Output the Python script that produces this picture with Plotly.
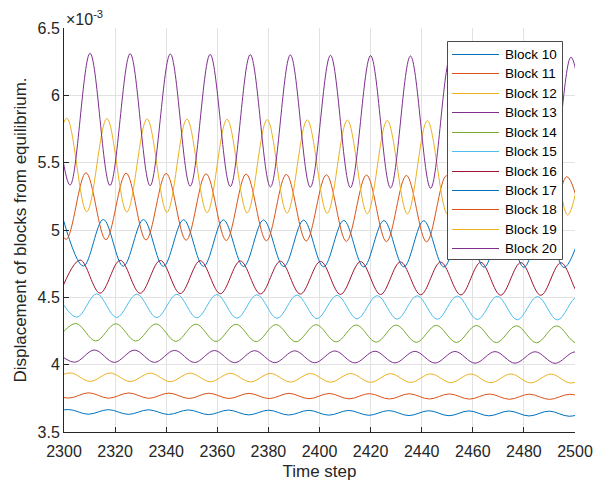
import plotly.graph_objects as go

# Extrema (turning points) of each block's displacement, in units of 1e-3.
# Each list alternates between crests and troughs; the plot spline joins them.
block10_t = [2293.9, 2301.7, 2309.5, 2317.4, 2325.2, 2333.1, 2340.9, 2348.7, 2356.6, 2364.4, 2372.3, 2380.1, 2387.9, 2395.8,
             2403.6, 2411.5, 2419.3, 2427.1, 2435.0, 2442.8, 2450.7, 2458.5, 2466.3, 2474.2, 2482.0, 2489.9, 2497.7, 2505.5]
block10_v = [3.634, 3.667, 3.632, 3.666, 3.631, 3.665, 3.630, 3.664, 3.629, 3.663, 3.627, 3.662, 3.626, 3.661,
             3.625, 3.660, 3.624, 3.659, 3.622, 3.658, 3.621, 3.657, 3.620, 3.656, 3.619, 3.655, 3.617, 3.654]

block11_t = [2294.0, 2301.9, 2309.7, 2317.5, 2325.4, 2333.2, 2341.1, 2348.9, 2356.7, 2364.6, 2372.4, 2380.3, 2388.1, 2395.9,
             2403.8, 2411.6, 2419.5, 2427.3, 2435.1, 2443.0, 2450.8, 2458.7, 2466.5, 2474.3, 2482.2, 2490.0, 2497.9, 2505.7]
block11_v = [3.792, 3.752, 3.791, 3.751, 3.790, 3.750, 3.789, 3.749, 3.788, 3.749, 3.787, 3.748, 3.787, 3.747,
             3.786, 3.746, 3.785, 3.745, 3.784, 3.745, 3.783, 3.744, 3.782, 3.743, 3.781, 3.742, 3.780, 3.741]

block12_t = [2294.6, 2302.4, 2310.2, 2318.1, 2325.9, 2333.8, 2341.6, 2349.4, 2357.3, 2365.1, 2373.0, 2380.8, 2388.6, 2396.5,
             2404.3, 2412.2, 2420.0, 2427.8, 2435.7, 2443.5, 2451.4, 2459.2, 2467.0, 2474.9, 2482.7, 2490.6, 2498.4, 2506.2]
block12_v = [3.877, 3.939, 3.876, 3.938, 3.875, 3.937, 3.874, 3.937, 3.873, 3.936, 3.872, 3.935, 3.871, 3.934,
             3.870, 3.934, 3.869, 3.933, 3.868, 3.932, 3.867, 3.931, 3.866, 3.931, 3.865, 3.930, 3.864, 3.929]

block13_t = [2296.2, 2304.1, 2311.9, 2319.7, 2327.6, 2335.4, 2343.3, 2351.1, 2358.9, 2366.8, 2374.6, 2382.5, 2390.3, 2398.1,
             2406.0, 2413.8, 2421.7, 2429.5, 2437.3, 2445.2, 2453.0, 2460.9, 2468.7, 2476.5, 2484.4, 2492.2, 2500.1, 2507.9]
block13_v = [4.110, 4.018, 4.109, 4.017, 4.108, 4.017, 4.106, 4.016, 4.105, 4.015, 4.104, 4.015, 4.103, 4.014,
             4.102, 4.013, 4.100, 4.013, 4.099, 4.012, 4.098, 4.011, 4.097, 4.011, 4.096, 4.010, 4.095, 4.009]

block14_t = [2296.8, 2304.6, 2312.4, 2320.3, 2328.1, 2336.0, 2343.8, 2351.6, 2359.5, 2367.3, 2375.2, 2383.0, 2390.8, 2398.7,
             2406.5, 2414.4, 2422.2, 2430.0, 2437.9, 2445.7, 2453.6, 2461.4, 2469.2, 2477.1, 2484.9, 2492.8, 2500.6, 2508.4]
block14_v = [4.177, 4.306, 4.176, 4.304, 4.175, 4.303, 4.173, 4.301, 4.172, 4.300, 4.171, 4.298, 4.170, 4.297,
             4.169, 4.295, 4.167, 4.294, 4.166, 4.292, 4.165, 4.291, 4.164, 4.289, 4.163, 4.288, 4.162, 4.286]

block15_t = [2297.1, 2305.0, 2312.8, 2320.6, 2328.5, 2336.3, 2344.2, 2352.0, 2359.8, 2367.7, 2375.5, 2383.4, 2391.2, 2399.0,
             2406.9, 2414.7, 2422.6, 2430.4, 2438.2, 2446.1, 2453.9, 2461.8, 2469.6, 2477.4, 2485.3, 2493.1, 2501.0, 2508.8]
block15_v = [4.528, 4.352, 4.526, 4.350, 4.524, 4.349, 4.523, 4.347, 4.521, 4.345, 4.519, 4.344, 4.517, 4.342,
             4.515, 4.340, 4.513, 4.338, 4.512, 4.337, 4.510, 4.335, 4.508, 4.333, 4.506, 4.332, 4.504, 4.330]

block16_t = [2298.5, 2306.3, 2314.1, 2322.0, 2329.8, 2337.7, 2345.5, 2353.3, 2361.2, 2369.0, 2376.9, 2384.7, 2392.5, 2400.4,
             2408.2, 2416.1, 2423.9, 2431.7, 2439.6, 2447.4, 2455.3, 2463.1, 2470.9, 2478.8, 2486.6, 2494.5, 2502.3, 2510.1]
block16_v = [4.533, 4.777, 4.531, 4.775, 4.530, 4.774, 4.528, 4.772, 4.527, 4.770, 4.525, 4.768, 4.524, 4.767,
             4.522, 4.765, 4.521, 4.763, 4.519, 4.762, 4.518, 4.760, 4.516, 4.758, 4.515, 4.757, 4.513, 4.755]

block17_t = [2299.7, 2307.6, 2315.4, 2323.2, 2331.1, 2338.9, 2346.8, 2354.6, 2362.4, 2370.3, 2378.1, 2386.0, 2393.8, 2401.6,
             2409.5, 2417.3, 2425.2, 2433.0, 2440.8, 2448.7, 2456.5, 2464.4, 2472.2, 2480.0, 2487.9, 2495.7, 2503.6]
block17_v = [5.079, 4.732, 5.078, 4.731, 5.077, 4.730, 5.076, 4.730, 5.075, 4.729, 5.074, 4.728, 5.073, 4.727,
             5.071, 4.726, 5.070, 4.726, 5.069, 4.725, 5.068, 4.724, 5.067, 4.723, 5.066, 4.722, 5.065]

block18_t = [2292.9, 2300.8, 2308.6, 2316.4, 2324.3, 2332.1, 2340.0, 2347.8, 2355.6, 2363.5, 2371.3, 2379.2, 2387.0, 2394.8,
             2402.7, 2410.5, 2418.4, 2426.2, 2434.0, 2441.9, 2449.7, 2457.6, 2465.4, 2473.2, 2481.1, 2488.9, 2496.8, 2504.6]
block18_v = [5.427, 4.930, 5.425, 4.928, 5.422, 4.926, 5.420, 4.924, 5.417, 4.922, 5.415, 4.920, 5.413, 4.918,
             5.410, 4.916, 5.408, 4.914, 5.405, 4.912, 5.403, 4.910, 5.401, 4.908, 5.398, 4.906, 5.396, 4.905]

block19_t = [2293.3, 2301.1, 2308.9, 2316.8, 2324.6, 2332.5, 2340.3, 2348.1, 2356.0, 2363.8, 2371.7, 2379.5, 2387.3, 2395.2,
             2403.0, 2410.9, 2418.7, 2426.5, 2434.4, 2442.2, 2450.1, 2457.9, 2465.7, 2473.6, 2481.4, 2489.3, 2497.1, 2504.9]
block19_v = [5.137, 5.830, 5.135, 5.828, 5.133, 5.826, 5.131, 5.824, 5.129, 5.822, 5.127, 5.820, 5.125, 5.818,
             5.123, 5.816, 5.121, 5.814, 5.119, 5.812, 5.117, 5.810, 5.115, 5.808, 5.113, 5.806, 5.111, 5.805]

block20_t = [2294.5, 2302.4, 2310.2, 2318.0, 2325.9, 2333.7, 2341.6, 2349.4, 2357.2, 2365.1, 2372.9, 2380.8, 2388.6, 2396.4,
             2404.3, 2412.1, 2420.0, 2427.8, 2435.6, 2443.5, 2451.3, 2459.2, 2467.0, 2474.8, 2482.7, 2490.5, 2498.4, 2506.2]
block20_v = [6.314, 5.334, 6.312, 5.331, 6.309, 5.329, 6.307, 5.326, 6.304, 5.323, 6.302, 5.320, 6.300, 5.318,
             6.297, 5.315, 6.295, 5.312, 6.292, 5.310, 6.290, 5.307, 6.288, 5.304, 6.285, 5.302, 6.283, 5.300]

block_names = ["Block 10", "Block 11", "Block 12", "Block 13", "Block 14", "Block 15",
               "Block 16", "Block 17", "Block 18", "Block 19", "Block 20"]
block_times = [block10_t, block11_t, block12_t, block13_t, block14_t, block15_t,
               block16_t, block17_t, block18_t, block19_t, block20_t]
block_values = [block10_v, block11_v, block12_v, block13_v, block14_v, block15_v,
                block16_v, block17_v, block18_v, block19_v, block20_v]

x_ticks = [2300, 2320, 2340, 2360, 2380, 2400, 2420, 2440, 2460, 2480, 2500]
y_ticks = [3.5, 4, 4.5, 5, 5.5, 6, 6.5]

# MATLAB default line colour order
palette = ["#0072BD", "#D95319", "#EDB120", "#7E2F8E", "#77AC30", "#4DBEEE", "#A2142F"]

FONT = "Liberation Sans, Arial, Helvetica, sans-serif"
AXIS_COLOR = "#262626"

# plot-area geometry in pixels (figure 595 x 487)
PLOT_L, PLOT_R, PLOT_T, PLOT_B = 64, 575, 28, 432


def px_x(px):
    return (px - PLOT_L) / (PLOT_R - PLOT_L)


def px_y(py):
    return (PLOT_B - py) / (PLOT_B - PLOT_T)


fig = go.Figure()
colors = []
for i, (name, t, v) in enumerate(zip(block_names, block_times, block_values)):
    c = palette[i % len(palette)]
    colors.append(c)
    fig.add_trace(go.Scatter(
        x=t, y=v, name=name, mode="lines", showlegend=False,
        line=dict(color=c, width=1, shape="spline", smoothing=1.0),
    ))

fig.update_layout(
    width=595, height=487, autosize=False,
    margin=dict(l=PLOT_L, r=595 - PLOT_R, t=PLOT_T, b=487 - PLOT_B, autoexpand=False),
    paper_bgcolor="white", plot_bgcolor="white",
    font=dict(family=FONT, size=16, color=AXIS_COLOR),
    showlegend=False,
)

fig.update_xaxes(
    range=[2300, 2500], tickvals=x_ticks, automargin=False,
    ticks="inside", ticklen=5, tickcolor=AXIS_COLOR, ticklabelstandoff=5,
    showline=True, linecolor=AXIS_COLOR, linewidth=1,
    showgrid=True, gridcolor="#e2e2e2", gridwidth=1, zeroline=False,
    tickfont=dict(size=16, color=AXIS_COLOR),
    title=dict(text="Time step", font=dict(size=17, color=AXIS_COLOR), standoff=5),
)
fig.update_yaxes(
    range=[3.5, 6.5], tickvals=y_ticks, automargin=False,
    ticks="inside", ticklen=5, tickcolor=AXIS_COLOR,
    showline=True, linecolor=AXIS_COLOR, linewidth=1,
    showgrid=True, gridcolor="#e2e2e2", gridwidth=1, zeroline=False,
    tickfont=dict(size=16, color=AXIS_COLOR),
    title=dict(text="Displacement of blocks from equilibrium.", font=dict(size=17, color=AXIS_COLOR), standoff=6),
)

# axis exponent label
fig.add_annotation(
    x=0, y=1, xref="paper", yref="paper", xanchor="left", yanchor="bottom",
    text="×10<sup>-3</sup>", showarrow=False, yshift=-2,
    font=dict(family=FONT, size=16, color=AXIS_COLOR),
)

# legend box drawn inside the axes (upper right)
LEG_L, LEG_R, LEG_T, LEG_B = 447.5, 562.5, 41.5, 259.5
ROW0, ROW_STEP = 54, 19.43
fig.add_shape(
    type="rect", xref="paper", yref="paper", layer="above",
    x0=px_x(LEG_L), x1=px_x(LEG_R), y0=px_y(LEG_B), y1=px_y(LEG_T),
    fillcolor="white", line=dict(color="#4a4a4a", width=1),
)
for i, (name, c) in enumerate(zip(block_names, colors)):
    row_px = round(ROW0 + i * ROW_STEP) + 0.5
    yy = px_y(row_px)
    fig.add_shape(
        type="line", xref="paper", yref="paper", layer="above",
        x0=px_x(452), x1=px_x(499), y0=yy, y1=yy,
        line=dict(color=c, width=1),
    )
    fig.add_annotation(
        x=px_x(502.5), y=yy, xref="paper", yref="paper",
        xanchor="left", yanchor="middle", text=name, showarrow=False,
        font=dict(family=FONT, size=13.5, color="#000000"),
    )

fig.write_html("out.html")
